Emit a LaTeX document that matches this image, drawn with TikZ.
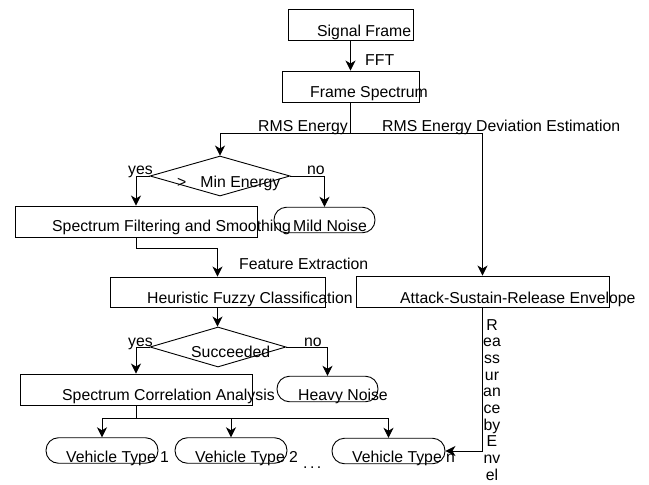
\documentclass[tikz,border=0pt]{standalone}
\usepackage{fontspec}
\setmainfont{Liberation Sans}
\usetikzlibrary{shapes.geometric,arrows.meta,calc}
\begin{document}
\begin{tikzpicture}[x=1pt,y=-1pt,
  every node/.style={font=\fontsize{15.8}{16.7}\selectfont},
  box/.style={draw,line width=0.9pt,rectangle,inner sep=0,minimum width=#1},
  term/.style={draw,line width=0.9pt,rectangle,rounded corners=12.5pt,inner sep=0,minimum width=#1,minimum height=25.5pt},
  dia/.style={draw,line width=0.9pt,diamond,inner sep=0,minimum width=#1,minimum height=40pt},
  txt/.style={anchor=base west,inner sep=0},
  conn/.style={line width=0.9pt,-{Stealth[length=10pt,width=10pt,inset=3pt]}},
  line/.style={line width=0.9pt}]
\useasboundingbox[fill=white] (0,0) rectangle (649,485);
% boxes
\node[box=125pt,minimum height=31pt] (sig) at (350.5,24.5) {};
\node[box=137pt,minimum height=31pt] (spec) at (350.5,86.5) {};
\node[dia=140pt] (d1) at (220,176) {};
\node[box=242pt,minimum height=31pt] (filt) at (136,221.5) {};
\node[term=101pt] (mild) at (324.5,220) {};
\node[box=215pt,minimum height=30pt] (heur) at (217.5,292) {};
\node[box=253pt,minimum height=31pt] (att) at (482.5,291.5) {};
\node[dia=136pt] (d2) at (218,347) {};
\node[box=232pt,minimum height=31pt] (corr) at (136,389.5) {};
\node[term=101pt] (heavy) at (327.5,389) {};
\node[term=112pt] (v1) at (102,450.5) {};
\node[term=112pt] (v2) at (231,450.5) {};
\node[term=113pt] (vn) at (388.5,451) {};
% junctions
\coordinate (j1) at ($(spec.south)+(0,31)$);
\coordinate (j2) at ($(filt.south)+(0,11)$);
\coordinate (j3) at ($(corr.south)+(0,13)$);
% connectors
\draw[conn] (sig.south) -- (spec.north);
\draw[line] (spec.south) -- (j1);
\draw[conn] (j1) -| (d1.north);
\draw[conn] (j1) -| (att.north);
\draw[conn] (d1.west) -| (filt.north);
\draw[conn] (d1.east) -| (mild.north);
\draw[line] (filt.south) -- (j2);
\draw[conn] (j2) -| (heur.north);
\draw[conn] (heur.south) -- (heur.south |- d2.north);
\draw[conn] (d2.west) -| (corr.north);
\draw[conn] (d2.east) -| (heavy.north);
\draw[line] (corr.south) -- (j3);
\draw[conn] (j3) -| (v1.north);
\draw[conn] (j3) -| (v2.north);
\draw[conn] (j3) -| (vn.north);
\draw[conn] (att.south) |- (vn.east);
% texts
\node[txt] (tsig) at (317,36) {Signal Frame};
\node[txt] (tfft) at (365,65) {FFT};
\node[txt] (tspec) at (310,97) {Frame Spectrum};
\node[txt] (trms) at (258,131) {RMS Energy};
\node[txt] (trmsd) at (382,131) {RMS Energy Deviation Estimation};
\node[txt] (tyes1) at (128,174) {yes};
\node[txt] (tno1) at (307,174) {no};
\node[txt] (tmin) at (177,187) {>\hspace{14pt}Min Energy};
\node[txt] (tfilt) at (52,231) {Spectrum Filtering and Smoothing};
\node[txt] (tmild) at (293,231) {Mild Noise};
\node[txt] (tfeat) at (239,269) {Feature Extraction};
\node[txt] (theur) at (147,303) {Heuristic Fuzzy Classification};
\node[txt] (tatt) at (400,303) {Attack-Sustain-Release Envelope};
\node[txt] (tyes2) at (128,346) {yes};
\node[txt] (tno2) at (304,346) {no};
\node[txt] (tsucc) at (191,357) {Succeeded};
\node[txt] (tcorr) at (62,400) {Spectrum Correlation Analysis};
\node[txt] (theavy) at (298,400) {Heavy Noise};
\node[txt] (tv1) at (66,462) {Vehicle Type 1};
\node[txt] (tv2) at (195,462) {Vehicle Type 2};
\node[txt] (tvn) at (352,462) {Vehicle Type n};
\node[txt] (tdots) at (303,468) {.\hspace{2.5pt}.\hspace{2.5pt}.};
\node[anchor=north,inner sep=0,align=center] (tre) at (492,319) {R\\ea\\ss\\ur\\an\\ce\\by\\E\\nv\\el};
\end{tikzpicture}
\end{document}
